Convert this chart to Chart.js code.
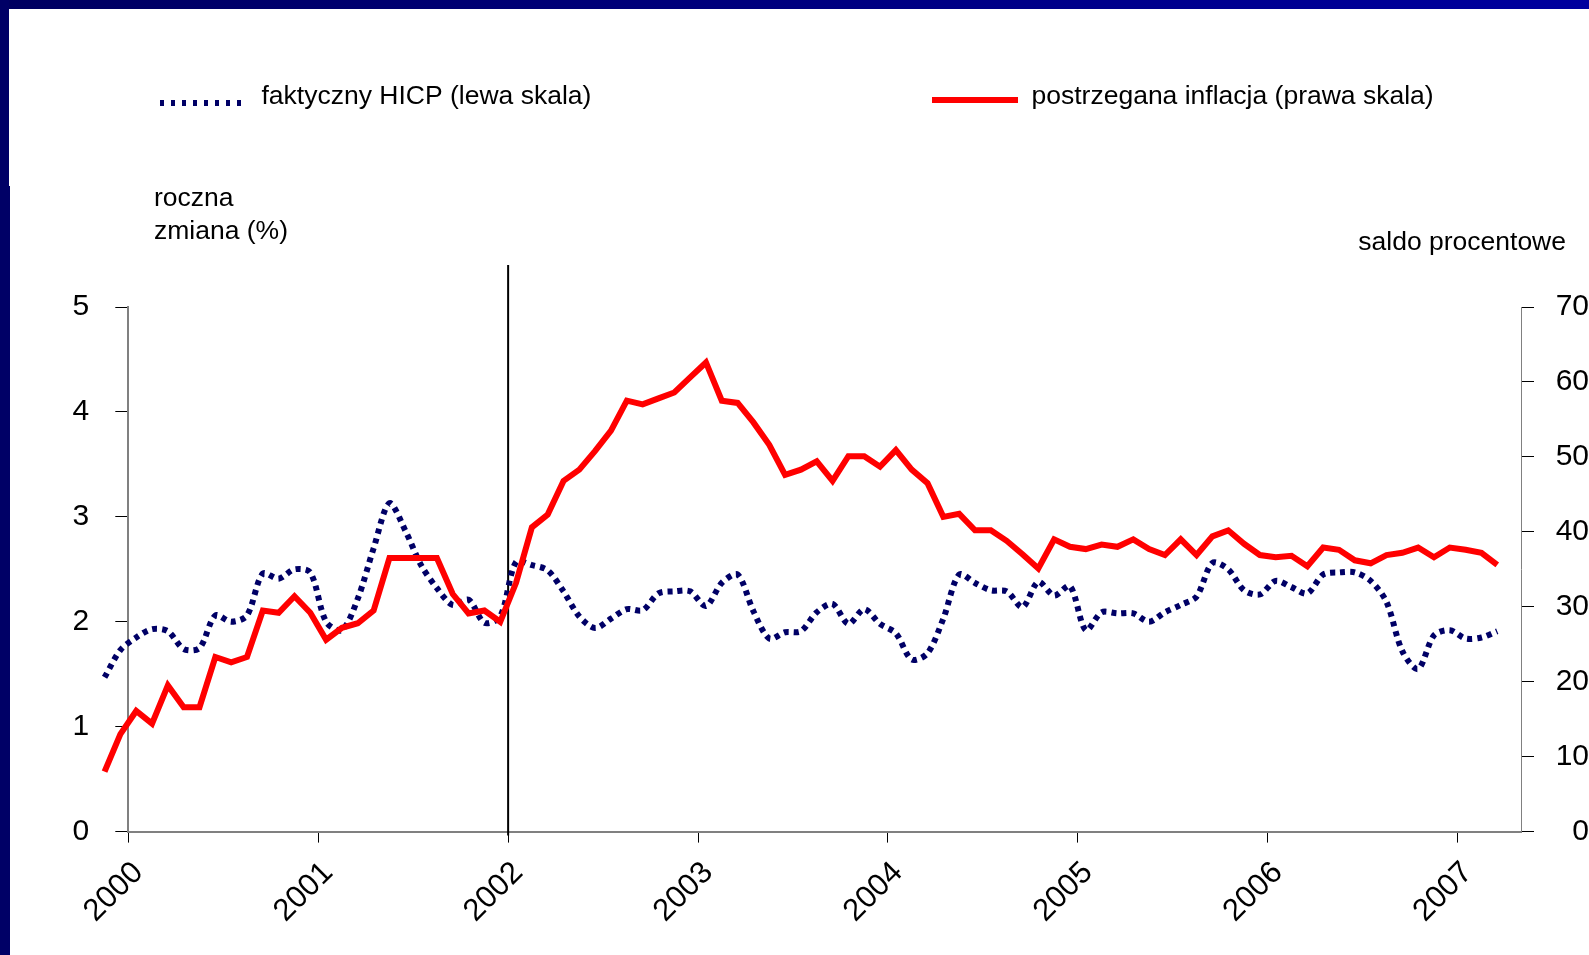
<!DOCTYPE html>
<html lang="pl">
<head>
<meta charset="UTF-8"/>
<title>Faktyczny HICP a postrzegana inflacja</title>
<script src="https://cdn.jsdelivr.net/npm/chart.js@4.4.1/dist/chart.umd.min.js"></script>
<style>
  html, body { margin: 0; padding: 0; background: #fff; }
  #wrap { position: relative; width: 1589px; height: 955px; overflow: hidden; background: #fff; }
  #topband { position: absolute; left: 0; top: 0; width: 1589px; height: 9px; background: linear-gradient(to right, #000060, #00009e); }
  #leftband1 { position: absolute; left: 0; top: 0; width: 9px; height: 186px; background: #000066; }
  #leftband2 { position: absolute; left: 0; top: 186px; width: 10px; height: 769px; background: #000066; }
  canvas { position: absolute; left: 0; top: 0; }
</style>
</head>
<body>
<div id="wrap">
  <canvas id="chart" width="1589" height="955"></canvas>
  <div id="topband"></div>
  <div id="leftband1"></div>
  <div id="leftband2"></div>
</div>
<script>
// monthly data, Nov 1999 .. Mar 2007 (x = months from Jan 2000)
const firstMonth = -2;

// faktyczny HICP, roczna zmiana (%) - left scale
const hicp = [
  1.47, 1.73,
  1.85, 1.93, 1.91, 1.74, 1.75, 2.06, 2.00, 2.06, 2.46, 2.41, 2.50, 2.47,
  2.00, 1.92, 2.22, 2.70, 3.13, 2.87, 2.54, 2.32, 2.16, 2.21, 1.99, 2.05,
  2.57, 2.54, 2.49, 2.29, 2.05, 1.94, 2.03, 2.12, 2.11, 2.27, 2.29, 2.29,
  2.15, 2.37, 2.45, 2.10, 1.84, 1.90, 1.91, 2.09, 2.17, 1.98, 2.12, 1.98,
  1.89, 1.64, 1.70, 2.03, 2.45, 2.37, 2.30, 2.29, 2.14, 2.38, 2.25, 2.34,
  1.92, 2.09, 2.08, 2.08, 2.00, 2.09, 2.16, 2.24, 2.56, 2.50, 2.30, 2.26,
  2.39, 2.33, 2.27, 2.45, 2.47, 2.47, 2.39, 2.19, 1.72, 1.55, 1.87, 1.92,
  1.84, 1.85, 1.91
];

// postrzegana inflacja, saldo procentowe - right scale
const perceived = [
  8.0, 13.0,
  16.1, 14.4, 19.5, 16.6, 16.6, 23.3, 22.6, 23.3, 29.5, 29.2, 31.4, 29.2,
  25.6, 27.2, 27.8, 29.5, 36.5, 36.5, 36.5, 36.5, 31.7, 29.1, 29.5, 28.0,
  33.2, 40.6, 42.3, 46.8, 48.3, 50.8, 53.5, 57.5, 57.0, 57.8, 58.6, 60.6,
  62.6, 57.5, 57.2, 54.6, 51.6, 47.6, 48.3, 49.4, 46.8, 50.1, 50.1, 48.7,
  50.9, 48.3, 46.5, 42.0, 42.4, 40.2, 40.2, 38.8, 37.0, 35.1, 39.0, 38.0,
  37.7, 38.3, 38.0, 39.0, 37.7, 36.9, 39.0, 36.9, 39.4, 40.2, 38.4, 36.9,
  36.6, 36.8, 35.4, 37.9, 37.6, 36.2, 35.8, 36.9, 37.2, 37.9, 36.6, 37.9,
  37.6, 37.2, 35.6
];

const yearLabels = ['2000', '2001', '2002', '2003', '2004', '2005', '2006', '2007'];
const legendTexts = ['faktyczny HICP (lewa skala)', 'postrzegana inflacja (prawa skala)'];
const leftTitle = ['roczna', 'zmiana (%)'];
const rightTitle = 'saldo procentowe';
const dividerYear = '2002';

const family = "'Liberation Sans', Arial, sans-serif";
const navy = '#000066';
const red = '#ff0000';

const toPoints = arr => arr.map((v, i) => ({x: i + firstMonth, y: v}));
const yearStart = k => 12 * k - 0.5;

const extras = {
  id: 'extras',
  beforeDatasetsDraw(chart) {
    const {ctx, scales: {x, yL}} = chart;
    const px = x.getPixelForValue(yearStart(yearLabels.indexOf(dividerYear)));
    ctx.save();
    ctx.strokeStyle = '#000';
    ctx.lineWidth = 2;
    ctx.beginPath();
    ctx.moveTo(px, yL.getPixelForValue(5.4));
    ctx.lineTo(px, yL.bottom + 4);
    ctx.stroke();
    ctx.restore();
  },
  afterDraw(chart) {
    const {ctx} = chart;
    const ds = chart.data.datasets;
    ctx.save();
    ctx.font = '26.5px ' + family;
    ctx.fillStyle = '#000';
    ctx.textBaseline = 'alphabetic';

    // legend
    const samples = [
      {x0: 160, x1: 248, y: 103, tx: 261.5, dash: [4, 7]},
      {x0: 932, x1: 1018, y: 100, tx: 1031.5, dash: []}
    ];
    samples.forEach((s, i) => {
      ctx.strokeStyle = ds[i].borderColor;
      ctx.lineWidth = 6;
      ctx.setLineDash(s.dash);
      ctx.beginPath();
      ctx.moveTo(s.x0, s.y);
      ctx.lineTo(s.x1, s.y);
      ctx.stroke();
      ctx.setLineDash([]);
      ctx.textAlign = 'left';
      ctx.fillText(ds[i].label, s.tx, 104);
    });

    // axis titles
    ctx.textAlign = 'left';
    ctx.fillText(leftTitle[0], 154, 206);
    ctx.fillText(leftTitle[1], 154, 239);
    ctx.textAlign = 'right';
    ctx.fillText(rightTitle, 1566, 250);
    ctx.restore();
  }
};

new Chart(document.getElementById('chart').getContext('2d'), {
  type: 'line',
  data: {
    datasets: [{
      label: legendTexts[0],
      data: toPoints(hicp),
      yAxisID: 'yL',
      borderColor: navy,
      borderWidth: 6,
      borderDash: [5, 5],
      tension: 0.3,
      fill: false,
      clip: false,
      order: 1
    }, {
      label: legendTexts[1],
      data: toPoints(perceived),
      yAxisID: 'yR',
      borderColor: red,
      borderWidth: 6,
      tension: 0,
      fill: false,
      clip: false,
      order: 0
    }]
  },
  options: {
    responsive: false,
    animation: false,
    layout: {padding: {top: 307, left: 68, right: 0, bottom: 23.4}},
    elements: {point: {radius: 0}},
    plugins: {legend: {display: false}, tooltip: {enabled: false}},
    scales: {
      x: {
        type: 'linear',
        bounds: 'data',
        // set range here (not min/max) so the two 1999 points left of the axis are still drawn
        afterDataLimits: s => { s.min = -0.5; s.max = 87.5; },
        afterBuildTicks: s => { s.ticks = yearLabels.map((_, k) => ({value: yearStart(k)})); },
        afterFit: s => { s.height = 100; },
        grid: {drawOnChartArea: false, tickLength: 11, color: '#000', lineWidth: 1},
        border: {color: '#808080', width: 2},
        ticks: {
          autoSkip: false,
          minRotation: 45,
          maxRotation: 45,
          padding: 12,
          labelOffset: 10,
          color: '#000',
          font: {family: family, size: 31},
          callback: v => yearLabels[Math.round((v + 0.5) / 12)]
        }
      },
      yL: {
        position: 'left',
        min: 0,
        max: 5,
        afterFit: s => { s.width = 60.3; },
        grid: {drawOnChartArea: false, tickLength: 13, color: '#000', lineWidth: 1},
        border: {color: '#808080', width: 2},
        ticks: {stepSize: 1, padding: 26, color: '#000', font: {family: family, size: 30}}
      },
      yR: {
        position: 'right',
        min: 0,
        max: 70,
        afterFit: s => { s.width = 68; },
        grid: {drawOnChartArea: false, tickLength: 13, color: '#000', lineWidth: 1},
        border: {color: '#808080', width: 1},
        ticks: {stepSize: 10, padding: 15.6, crossAlign: 'far', color: '#000', font: {family: family, size: 30}}
      }
    }
  },
  plugins: [extras]
});
</script>
</body>
</html>
